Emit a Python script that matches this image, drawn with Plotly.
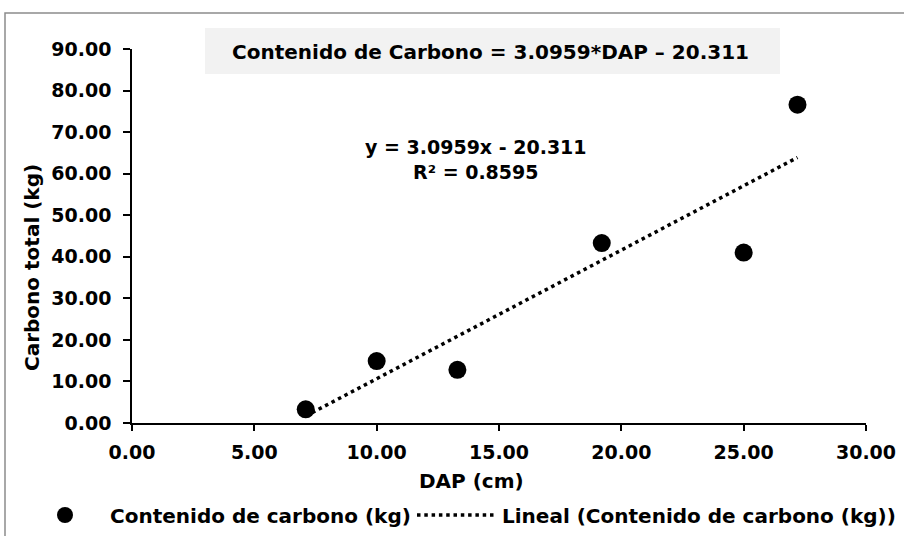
import plotly.graph_objects as go

# ---- data ----
dap_cm = [7.1, 10.0, 13.3, 19.2, 25.0, 27.2]
carbono_kg = [3.3, 14.9, 12.8, 43.3, 41.0, 76.6]
trend_slope = 3.0959
trend_intercept = -20.311
r_squared = 0.8595

series_name = "Contenido de carbono (kg)"
trend_name = "Lineal (Contenido de carbono (kg))"
title_text = "Contenido de Carbono = 3.0959*DAP \u2013 20.311"
x_title = "DAP (cm)"
y_title = "Carbono total (kg)"

# trend line drawn between the smallest and largest DAP
tx = [min(dap_cm), max(dap_cm)]
ty = [trend_slope * v + trend_intercept for v in tx]

FONT = "DejaVu Sans"
W, H = 904, 536
L, R, T, B = 132, 38, 49, 113
PW, PH = W - L - R, H - T - B


def px(xpix):
    return (xpix - L) / PW


def py(ypix):
    return (H - B - ypix) / PH


fig = go.Figure()
fig.add_trace(go.Scatter(
    x=dap_cm, y=carbono_kg, mode="markers", name=series_name,
    marker=dict(color="black", size=18), legend="legend",
))
fig.add_trace(go.Scatter(
    x=tx, y=ty, mode="lines", name=trend_name,
    line=dict(color="black", width=3.5, dash="3.5px,3.8px"), legend="legend2",
))

axis_common = dict(
    showline=True, linecolor="black", linewidth=1.5,
    ticks="outside", tickcolor="black", tickwidth=1.5,
    showgrid=False, zeroline=False, tickformat=".2f", automargin=False,
    tickfont=dict(family=FONT, size=19, color="black", weight="bold"),
)
fig.update_xaxes(range=[0, 30], dtick=5, tick0=0, ticklen=6,
                 ticklabelstandoff=5, **axis_common)
fig.update_yaxes(range=[0, 90], dtick=10, tick0=0, ticklen=7,
                 ticklabelstandoff=8, **axis_common)

shapes = [
    # outer chart frame (continues beyond the image)
    dict(type="rect", xref="paper", yref="paper",
         x0=px(5), x1=px(930), y0=py(13), y1=py(560),
         line=dict(color="#8c8c8c", width=1.5), fillcolor="rgba(0,0,0,0)",
         layer="below"),
    # title box
    dict(type="rect", xref="paper", yref="paper",
         x0=px(205), x1=px(780), y0=py(28), y1=py(74),
         line=dict(width=0), fillcolor="#f2f2f2", layer="below"),
]

bold = lambda s: dict(family=FONT, size=s, color="black", weight="bold")
annotations = [
    dict(text=title_text, x=px(490.5), y=py(51.5), xref="paper", yref="paper",
         showarrow=False, xanchor="center", yanchor="middle", font=bold(20)),
    dict(text=x_title, x=px(471.7), y=py(480.5), xref="paper", yref="paper",
         showarrow=False, xanchor="center", yanchor="middle", font=bold(20)),
    dict(text=y_title, x=px(32), y=py(267), xref="paper", yref="paper",
         showarrow=False, xanchor="center", yanchor="middle", textangle=-90,
         font=bold(20)),
    dict(text=f"y = {trend_slope}x - {abs(trend_intercept)}<br>R\u00b2 = {r_squared}",
         x=px(475.5), y=py(159), align="center",
         xref="paper", yref="paper", showarrow=False, xanchor="center",
         yanchor="middle", font=bold(19)),
]

legend_common = dict(orientation="h", xanchor="left", yanchor="middle",
                     itemwidth=80, font=bold(20), bgcolor="rgba(0,0,0,0)",
                     borderwidth=0)

fig.update_layout(
    width=W, height=H, autosize=False,
    margin=dict(l=L, r=R, t=T, b=B, pad=0, autoexpand=False),
    paper_bgcolor="white", plot_bgcolor="rgba(0,0,0,0)",
    shapes=shapes, annotations=annotations,
    showlegend=True,
    legend=dict(x=px(20), y=py(515), **legend_common),
    legend2=dict(x=px(412), y=py(515), **legend_common),
    font=dict(family=FONT, color="black"),
)

fig.write_html("out.html",
               config={"displayModeBar": False},
               post_script="document.body.style.margin='0px';")
